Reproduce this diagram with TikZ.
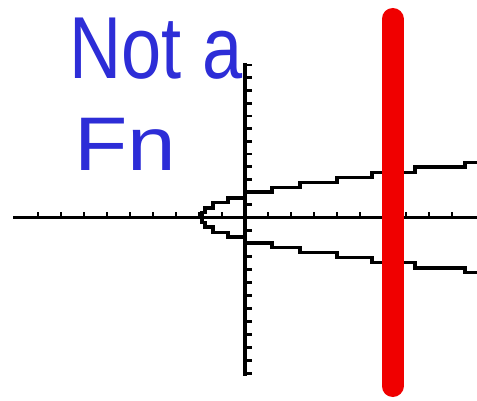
\documentclass[tikz,border=0pt]{standalone}
\usepackage{fontspec}
\setmainfont{Liberation Sans}
\definecolor{penblue}{RGB}{45,45,215}
\definecolor{marker}{RGB}{240,0,0}
\begin{document}
\begin{tikzpicture}[x=1pt,y=1pt,
  axisline/.style={line width=3.8pt,black},
  tickmark/.style={line width=2.8pt,black},
  stair/.style={line width=3.4pt,black,line join=miter},
  vline/.style={line width=22pt,marker,line cap=round},
  hand/.style={text=penblue,inner sep=0pt}]
\useasboundingbox (0,0) rectangle (477,400);
\fill[white] (0,0) rectangle (477,400);
% origin of the axes
\coordinate (O) at (245,182.5);
\begin{scope}[shift={(O)}]
  % axes
  \draw[axisline] (-232,0) -- (232,0);
  \draw[axisline] (0,154.5) -- (0,-158.5);
  % ticks on horizontal axis (upwards)
  \foreach \k in {1,...,9}{
    \draw[tickmark] (-23*\k,0) -- ++(0,6);
    \draw[tickmark] (23*\k,0) -- ++(0,6);
  }
  % ticks on vertical axis (to the right)
  \foreach \k in {1,...,12}{
    \draw[tickmark] (0,12.7*\k) -- ++(6.5,0);
    \draw[tickmark] (0,-13*\k) -- ++(6.5,0);
  }
  % stepped sideways parabola
  \foreach \s in {1,-1}{
  \begin{scope}[yscale=\s]
  \draw[stair] (-43,0) -- (-43,5) -- (-40,5) -- (-40,9.5) -- (-32,9.5) -- (-32,15)
    -- (-17,15) -- (-17,19.5) -- (0,19.5) -- (0,25.5) -- (27,25.5) -- (27,30)
    -- (55,30) -- (55,35) -- (92,35) -- (92,40) -- (127,40) -- (127,45)
    -- (170,45) -- (170,50.5) -- (220,50.5) -- (220,55) -- (233,55);
  \end{scope}}
\end{scope}
% red vertical line
\coordinate (vtop) at (392.5,381);
\coordinate (vbot) at (392.5,14);
\draw[vline] (vtop) -- (vbot);
% handwritten text
\node[hand,xscale=0.82,font=\fontsize{88}{88}\selectfont] (nota) at (156,351) {Not a};
\node[hand,xscale=1.15,font=\fontsize{76}{76}\selectfont] (fn) at (125,256) {Fn};
\end{tikzpicture}
\end{document}
